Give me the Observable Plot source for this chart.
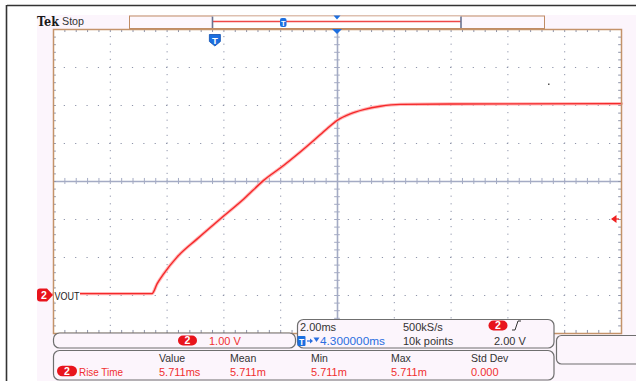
<!DOCTYPE html>
<html><head><meta charset="utf-8">
<script src="https://cdn.jsdelivr.net/npm/d3@7"></script>
<script src="https://cdn.jsdelivr.net/npm/@observablehq/plot@0.6"></script>
<style>html,body{margin:0;padding:0;background:#fff;overflow:hidden}svg{display:block}</style>
</head><body><div id="chart"></div>
<script>
// Trace (time in ms relative to trigger, VOUT in volts)
const timeMs = [-5.70, -2.23, -2.05, -1.82, -1.35, -0.64, 0.18, 1.00, 1.70, 2.40, 2.88, 3.46, 3.93, 4.29, 4.75, 5.22, 5.81, 6.51, 8.27, 14.30];
const voutV  = [ 0.05,  0.05,  0.31,  0.57,  1.01,  1.49, 2.02, 2.54, 3.03, 3.42, 3.71, 4.08, 4.39, 4.61, 4.78, 4.89, 4.98, 5.03, 5.04, 5.05];
// Screen graticule: 10 x 2.00 ms/div, 8 x 1.00 V/div
const xGrid = [-5.7, -3.7, -1.7, 0.3, 2.3, 4.3, 6.3, 8.3, 10.3, 12.3, 14.3];
const yGrid = [-1, 0, 1, 2, 3, 4, 5, 6, 7];
const centerTime = 4.3, centerVolt = 3;
const triggerTime = 0, triggerLevel = 2, groundLevel = 0;
const channelLabel = "VOUT";
const measHeaders = ["Value", "Mean", "Min", "Max", "Std Dev"];
const measValues = ["5.711ms", "5.711m", "5.711m", "5.711m", "0.000"];

const trace = timeMs.map((t, i) => ({t, v: voutV[i]}));
const minorX = [], minorY = [];
for (let i = 0; i < xGrid.length - 1; i++) for (let k = 0; k < 5; k++) minorX.push(xGrid[i] + (xGrid[i+1]-xGrid[i])*k/5);
minorX.push(xGrid[xGrid.length-1]);
for (let i = 0; i < yGrid.length - 1; i++) for (let k = 0; k < 5; k++) minorY.push(yGrid[i] + (yGrid[i+1]-yGrid[i])*k/5);
minorY.push(yGrid[yGrid.length-1]);
const xMin = xGrid[0], xMax = xGrid[xGrid.length-1], yMin = yGrid[0], yMax = yGrid[yGrid.length-1];
const innerX = xGrid.slice(1, -1).filter(d => Math.abs(d - centerTime) > 1e-9);
const innerY = yGrid.slice(1, -1).filter(d => d !== centerVolt);
const gridC = "#8e94aa";

const chart = Plot.plot({
  width: 636, height: 381,
  marginLeft: 53, marginRight: 15, marginTop: 29, marginBottom: 48,
  x: {domain: [xMin, xMax], axis: null},
  y: {domain: [yMin, yMax], axis: null},
  style: {background: "transparent", fontFamily: "Liberation Sans, Arial, sans-serif"},
  marks: [
    Plot.ruleX(innerX, {stroke: gridC, strokeWidth: 1, strokeDasharray: "1.2,6.4", strokeDashoffset: 0.6}),
    Plot.ruleY(innerY, {stroke: gridC, strokeWidth: 1, strokeDasharray: "1.2,10.16", strokeDashoffset: 0.6}),
    Plot.ruleX([centerTime], {stroke: "#a4abc4", strokeWidth: 1.6}),
    Plot.ruleY([centerVolt], {stroke: "#a4abc4", strokeWidth: 1.6}),
    Plot.ruleX(minorX, {x: d => d, y1: centerVolt - 0.08, y2: centerVolt + 0.08, stroke: "#a4abc4"}),
    Plot.ruleY(minorY, {y: d => d, x1: centerTime - 0.1, x2: centerTime + 0.1, stroke: "#a4abc4"}),
    Plot.ruleX(minorX, {x: d => d, y1: yMax, y2: yMax - 0.08, stroke: gridC}),
    Plot.ruleX(minorX, {x: d => d, y1: yMin, y2: yMin + 0.08, stroke: gridC}),
    Plot.ruleY(minorY, {y: d => d, x1: xMin, x2: xMin + 0.1, stroke: gridC}),
    Plot.ruleY(minorY, {y: d => d, x1: xMax, x2: xMax - 0.1, stroke: gridC}),
    Plot.line(trace, {x: "t", y: "v", stroke: "#ffb8b8", strokeWidth: 3.4, curve: "monotone-x"}),
    Plot.line(trace, {x: "t", y: "v", stroke: "#f5282a", strokeWidth: 1.4, curve: "monotone-x"}),
    Plot.frame({stroke: "#c4936a", strokeWidth: 1.5})
  ]
});
document.getElementById("chart").appendChild(chart);

const svg = d3.select(chart);
const sx = v => chart.scale("x").apply(v), sy = v => chart.scale("y").apply(v);
const font = "Liberation Sans, Arial, sans-serif";
const pink = "#fcf5fc";

// background layer
const bg = svg.insert("g", ":first-child");
bg.append("rect").attr("width", 636).attr("height", 381).attr("fill", "#fff");
bg.append("rect").attr("x", 37).attr("y", 15).attr("width", 599).attr("height", 366).attr("fill", pink);
bg.append("rect").attr("x", sx(xMin)).attr("y", sy(yMax)).attr("width", sx(xMax) - sx(xMin)).attr("height", sy(yMin) - sy(yMax)).attr("fill", "#fff");
bg.append("line").attr("x1", 7).attr("x2", 636).attr("y1", 5.5).attr("y2", 5.5).attr("stroke", "#333").attr("stroke-width", 1.6);
bg.append("line").attr("x1", 6.5).attr("x2", 6.5).attr("y1", 5).attr("y2", 381).attr("stroke", "#333").attr("stroke-width", 1.6);

const ov = svg.append("g");
const text = (x, y, s, o = {}) => {
  const t = ov.append("text").attr("x", x).attr("y", y).text(s)
    .attr("font-family", o.family || font).attr("font-size", o.size || 10.5)
    .attr("font-weight", o.weight || "normal").attr("fill", o.fill || "#333")
    .attr("text-anchor", o.anchor || "start");
  if (o.len) t.attr("textLength", o.len).attr("lengthAdjust", "spacingAndGlyphs");
  return t;
};
const pill = (cx, cy, w, h, label) => {
  ov.append("rect").attr("x", cx - w/2).attr("y", cy - h/2).attr("width", w).attr("height", h)
    .attr("rx", h/2).attr("fill", "#e8141c");
  text(cx, cy + 3.8, label, {fill: "#fff", weight: "bold", size: 10.5, anchor: "middle"});
};

// header
text(37, 25.5, "Tek", {family: "DejaVu Serif, serif", weight: "bold", size: 13, fill: "#1a1a1a", len: 22});
text(62, 25, "Stop", {size: 11, fill: "#333", len: 22});

// record view bar
ov.append("rect").attr("x", 129.5).attr("y", 16).attr("width", 415).attr("height", 12.5).attr("fill", "#fdf7fd").attr("stroke", "#c08c64");
ov.append("rect").attr("x", 212).attr("y", 16.5).attr("width", 249).attr("height", 11.5).attr("fill", "#fff");
ov.append("line").attr("x1", 213).attr("x2", 461).attr("y1", 21.5).attr("y2", 21.5).attr("stroke", "#ee4848").attr("stroke-width", 1.3);
[212.5, 461].forEach(x => ov.append("line").attr("x1", x).attr("x2", x).attr("y1", 16.5).attr("y2", 28).attr("stroke", "#6a7290").attr("stroke-width", 1.6));
ov.append("rect").attr("x", 280).attr("y", 18).attr("width", 6.5).attr("height", 9).attr("rx", 2).attr("fill", "#1c6fe0");
text(283.2, 25.5, "T", {fill: "#fff", weight: "bold", size: 7.5, anchor: "middle"});
ov.append("path").attr("d", `M${sx(centerTime)-3.5},15.5 L${sx(centerTime)+3.5},15.5 L${sx(centerTime)},19.5 Z`).attr("fill", "#1c6fe0");

// expansion marker on graticule top
ov.append("path").attr("d", `M${sx(centerTime)-5},${sy(yMax)} L${sx(centerTime)+5},${sy(yMax)} L${sx(centerTime)},${sy(yMax)+5} Z`).attr("fill", "#1c6fe0");

// trigger position marker
const tx = sx(triggerTime), ty0 = 34.5;
ov.append("path").attr("d", `M${tx-5.5},${ty0} h11 v7 l-5.5,4.5 l-5.5,-4.5 Z`).attr("fill", "#1c6fe0").attr("stroke", "#0d4fb0").attr("stroke-width", 0.8);
text(tx, ty0 + 9, "T", {fill: "#fff", weight: "bold", size: 9.5, anchor: "middle"});

// trigger level arrow (right)
const tly = sy(triggerLevel);
ov.append("path").attr("d", `M611,${tly} L616.5,${tly-4} L616.5,${tly+4} Z`).attr("fill", "#f02020");
ov.append("line").attr("x1", 616).attr("x2", 619).attr("y1", tly).attr("y2", tly).attr("stroke", "#f02020").attr("stroke-width", 1.2);

// ground marker + label
const gy = sy(groundLevel);
ov.append("path").attr("d", `M40,${gy-6.5} h7 l6,6.5 l-6,6.5 h-7 a3,3 0 0 1 -3,-3 v-7 a3,3 0 0 1 3,-3 Z`).attr("fill", "#e8141c");
text(44, gy + 4, "2", {fill: "#fff", weight: "bold", size: 10.5, anchor: "middle"});
ov.append("rect").attr("x", 54).attr("y", gy - 6).attr("width", 26).attr("height", 12).attr("fill", "#fff");
text(54.5, gy + 4.5, channelLabel, {size: 11, fill: "#222", len: 25});

// small stray dot
ov.append("rect").attr("x", 548).attr("y", 83.5).attr("width", 1.5).attr("height", 1.5).attr("fill", "#555");

// bottom boxes
const box = (x, y, w, h, r) => ov.append("rect").attr("x", x).attr("y", y).attr("width", w).attr("height", h).attr("rx", r)
  .attr("fill", pink).attr("stroke", "#6f6f6f").attr("stroke-width", 1.2);
box(53.5, 333, 242, 15, 6);
box(297.5, 319.5, 256.5, 28.5, 6);
box(53.5, 350.5, 500.5, 29.5, 6);
box(556.5, 335.5, 90, 28.5, 5);

// channel box
pill(187.5, 340.5, 19, 10, "2");
text(209, 345, "1.00 V", {fill: "#f03030", size: 11});

// timebase box
text(300, 331, "2.00ms", {size: 11});
text(403, 331, "500kS/s", {size: 11});
pill(498, 325.5, 19, 10, "2");
ov.append("path").attr("d", "M512,330 L515,330 L518,321 L521,321").attr("fill", "none").attr("stroke", "#333").attr("stroke-width", 1);
ov.append("rect").attr("x", 297.5).attr("y", 336).attr("width", 8).attr("height", 10).attr("rx", 1).attr("fill", "#1c6fe0");
text(301.5, 344.5, "T", {fill: "#fff", weight: "bold", size: 8.5, anchor: "middle"});
ov.append("path").attr("d", "M307,341 h4").attr("stroke", "#2a6fe0").attr("stroke-width", 1.2);
ov.append("path").attr("d", "M310,338.5 L313,341 L310,343.5 Z").attr("fill", "#2a6fe0");
ov.append("path").attr("d", "M313.5,337.5 L319.5,337.5 L316.5,342 Z").attr("fill", "#2a6fe0");
text(320, 345, "4.300000ms", {fill: "#2a6fe0", size: 11, len: 65});
text(403, 345, "10k points", {size: 11});
text(494, 345, "2.00 V", {size: 11});

// measurement box
const colX = [159, 230, 311, 391, 471];
measHeaders.forEach((h, i) => text(colX[i], 362, h, {size: 10.5}));
pill(67, 371, 20, 10.5, "2");
text(79, 375.5, "Rise Time", {fill: "#f03030", size: 10.5, len: 44});
measValues.forEach((v, i) => text(colX[i], 375.5, v, {fill: "#f03030", size: 11}));
</script>
</body></html>
